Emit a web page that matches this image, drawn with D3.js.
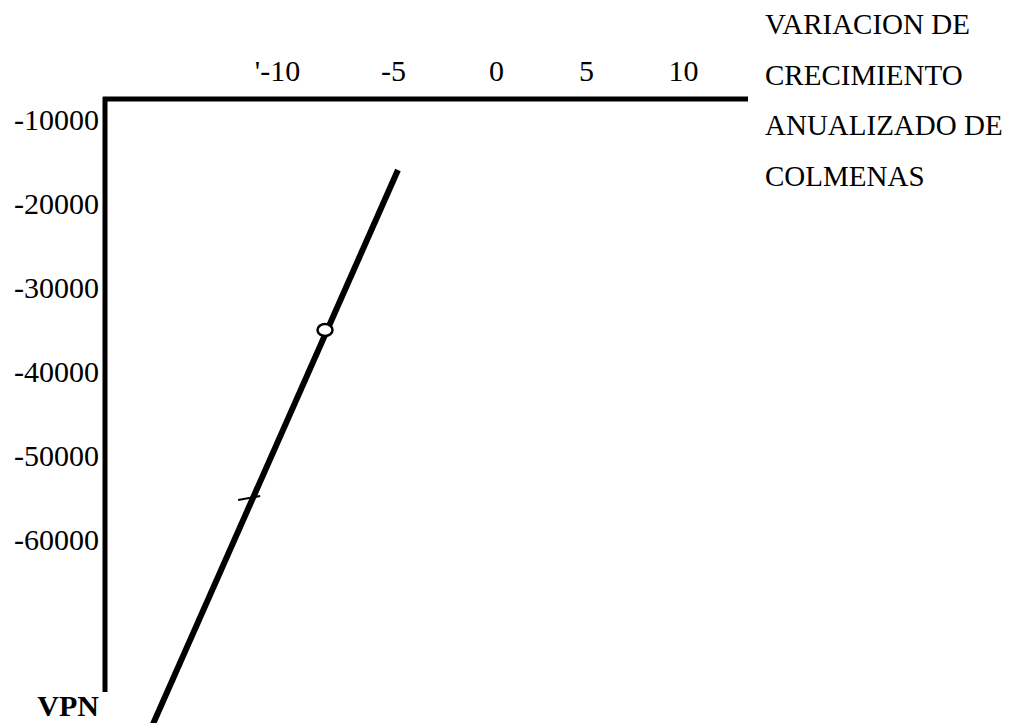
<!DOCTYPE html>
<html>
<head>
<meta charset="utf-8">
<style>
  html, body { margin: 0; padding: 0; background: #fff; }
</style>
</head>
<body>
<svg width="1033" height="723"></svg>
<script src="https://d3js.org/d3.v7.min.js"></script>
<script>

// tick values on each axis
var xTicks = [-10, -5, 0, 5, 10];
var yTicks = [-10000, -20000, -30000, -40000, -50000, -60000];

// VPN line (growth variation, VPN)
var lineX = [-4.76, -15.6];
var lineY = [-15950, -83500];

// marked points on the line
var circleX = [-7.93];
var circleY = [-35000];
var dashX = [-11.2];
var dashY = [-55000];

var titleLines = ["VARIACION DE", "CRECIMIENTO", "ANUALIZADO DE", "COLMENAS"];

var svg = d3.select("svg"),
    font = "'Liberation Serif', 'Times New Roman', serif",
    axisLeftX = 105,
    axisTopY = 99,
    axisRightX = 748,
    axisBottomY = 692;

// the scanned tick labels are not evenly spaced, so the x scale is piecewise
var x = d3.scaleLinear()
    .domain(xTicks)
    .range([277, 393, 496, 586, 683]);

var y = d3.scaleLinear()
    .domain([-10000, -60000])
    .range([120, 540]);

var line = d3.line()
    .x(function(d) { return x(d[0]); })
    .y(function(d) { return y(d[1]); });

// top axis labels
svg.append("g")
    .attr("transform", "translate(0," + axisTopY + ")")
    .call(d3.axisTop(x).tickValues(xTicks).tickSize(0).tickPadding(18)
      .tickFormat(function(d) { return d === -10 ? "'-10" : String(d); }))
    .attr("font-family", font)
    .attr("font-size", 30)
    .call(function(g) { g.select(".domain").remove(); });

// left axis labels
svg.append("g")
    .attr("transform", "translate(" + axisLeftX + ",0)")
    .call(d3.axisLeft(y).tickValues(yTicks).tickSize(0).tickPadding(6)
      .tickFormat(function(d) { return String(d); }))
    .attr("font-family", font)
    .attr("font-size", 30)
    .call(function(g) { g.select(".domain").remove(); });

// thick axis lines
svg.append("line")
    .attr("x1", axisLeftX - 2).attr("x2", axisRightX)
    .attr("y1", axisTopY).attr("y2", axisTopY)
    .attr("stroke", "#000")
    .attr("stroke-width", 5);

svg.append("line")
    .attr("x1", axisLeftX).attr("x2", axisLeftX)
    .attr("y1", axisTopY - 2).attr("y2", axisBottomY)
    .attr("stroke", "#000")
    .attr("stroke-width", 5);

// the VPN line
svg.append("path")
    .datum(d3.zip(lineX, lineY))
    .attr("fill", "none")
    .attr("stroke", "#000")
    .attr("stroke-width", 6)
    .attr("d", line);

// small dash across the line
svg.selectAll(".dash")
    .data(d3.zip(dashX, dashY))
  .enter().append("line")
    .attr("class", "dash")
    .attr("x1", function(d) { return x(d[0]) - 11; })
    .attr("y1", function(d) { return y(d[1]) + 2; })
    .attr("x2", function(d) { return x(d[0]) + 11; })
    .attr("y2", function(d) { return y(d[1]) - 2; })
    .attr("stroke", "#000")
    .attr("stroke-width", 2);

// open circle
svg.selectAll(".dot")
    .data(d3.zip(circleX, circleY))
  .enter().append("ellipse")
    .attr("class", "dot")
    .attr("cx", function(d) { return x(d[0]); })
    .attr("cy", function(d) { return y(d[1]); })
    .attr("rx", 7.5)
    .attr("ry", 6)
    .attr("fill", "#fff")
    .attr("stroke", "#000")
    .attr("stroke-width", 2.5);

// axis title, top right
svg.append("g")
    .selectAll("text")
    .data(titleLines)
  .enter().append("text")
    .attr("x", 765)
    .attr("y", function(d, i) { return 34 + i * 50.7; })
    .attr("font-family", font)
    .attr("font-size", 29)
    .attr("fill", "#000")
    .text(function(d) { return d; });

// VPN label, bottom left
svg.append("text")
    .attr("x", 99)
    .attr("y", 716)
    .attr("text-anchor", "end")
    .attr("font-family", font)
    .attr("font-size", 30)
    .attr("font-weight", "bold")
    .attr("fill", "#000")
    .text("VPN");

</script>
</body>
</html>
